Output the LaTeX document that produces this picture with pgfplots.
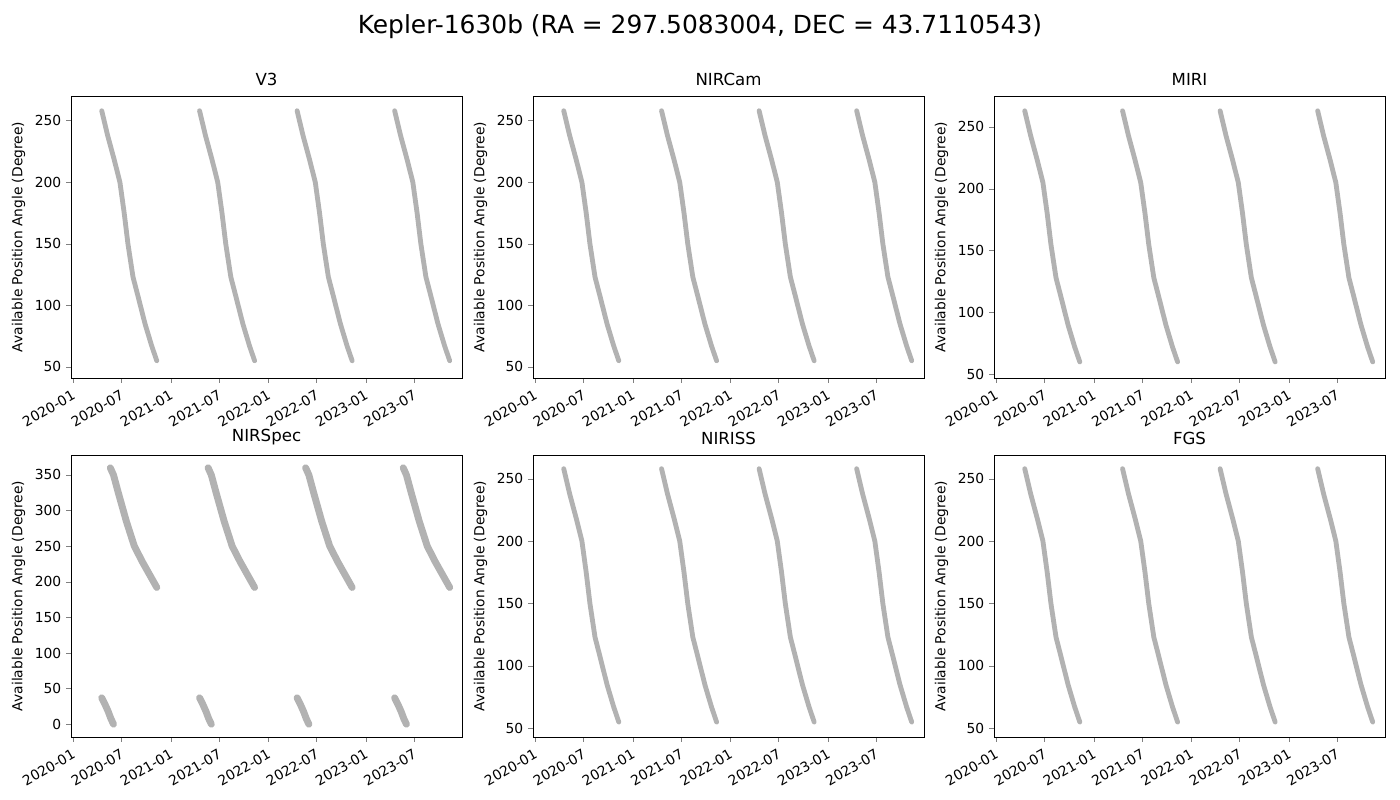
\documentclass[border=0pt]{standalone}
\usepackage{pgfplots}
\pgfplotsset{compat=1.18}
\usepackage{pgfplotstable}
\usepackage{fontspec}
\setmainfont{DejaVu Sans}
\definecolor{band}{RGB}{178,178,178}
\pgfplotstableread{
d v
108 258
130 238
155 218
176 200
192 175
206 150
225 123
243 108
270 85
295 67
314 55
nan nan
474 258
496 238
521 218
542 200
558 175
572 150
591 123
609 108
636 85
661 67
680 55
nan nan
839 258
861 238
886 218
907 200
923 175
937 150
956 123
974 108
1001 85
1026 67
1045 55
nan nan
1204 258
1226 238
1251 218
1272 200
1288 175
1302 150
1321 123
1339 108
1366 85
1391 67
1410 55
}\vthree
\pgfplotstableread{
d v
108 263
130 243
155 223
176 205
192 180
206 155
225 128
243 113
270 90
295 72
314 60
nan nan
474 263
496 243
521 223
542 205
558 180
572 155
591 128
609 113
636 90
661 72
680 60
nan nan
839 263
861 243
886 223
907 205
923 180
937 155
956 128
974 113
1001 90
1026 72
1045 60
nan nan
1204 263
1226 243
1251 223
1272 205
1288 180
1302 155
1321 128
1339 113
1366 90
1391 72
1410 60
}\miri
\pgfplotstableread{
d v
140 360
152 350
170 325
200 285
230 250
260 228
290 208
314 192
nan nan
108 37
120 28
132 18
142 8
152 0
nan nan
506 360
518 350
536 325
566 285
596 250
626 228
656 208
680 192
nan nan
474 37
486 28
498 18
508 8
518 0
nan nan
871 360
883 350
901 325
931 285
961 250
991 228
1021 208
1045 192
nan nan
839 37
851 28
863 18
873 8
883 0
nan nan
1236 360
1248 350
1266 325
1296 285
1326 250
1356 228
1386 208
1410 192
nan nan
1204 37
1216 28
1228 18
1238 8
1248 0
}\nirspec
\pgfplotsset{
  every axis/.style={scale only axis, width=3.91in, height=2.82in, anchor=north west,
    xmin=-7, xmax=1456, unbounded coords=jump,
    xtick={0,182,366,547,731,912,1096,1277},
    xticklabels={2020-01,2020-07,2021-01,2021-07,2022-01,2022-07,2023-01,2023-07},
    xticklabel style={rotate=30, anchor=north east, font=\fontsize{10}{12}\selectfont},
    yticklabel style={font=\fontsize{10}{12}\selectfont},
    ylabel={Available Position Angle (Degree)},
    ylabel style={font=\fontsize{10}{12}\selectfont},
    title style={font=\fontsize{12}{14}\selectfont, yshift=-2pt},
    /pgf/number format/assume math mode=true,
    tick align=outside, tick pos=left, major tick length=3.5pt,
  },
  bandline/.style={band, line width=3.5pt, line cap=round, line join=round},
}
\begin{document}
\begin{tikzpicture}
\path (0,0) rectangle (14in,8in);
\node[font=\fontsize{18}{22}\selectfont] at (7in,7.73in) {Kepler-1630b (RA = 297.5083004, DEC = 43.7110543)};
\begin{axis}[at={(0.71in,7.04in)}, title={V3}, ymin=41, ymax=270, ytick={50,100,150,200,250}]
\addplot[bandline] table[x=d,y=v] {\vthree};
\end{axis}
\begin{axis}[at={(5.33in,7.04in)}, title={NIRCam}, ymin=41, ymax=270, ytick={50,100,150,200,250}]
\addplot[bandline] table[x=d,y=v] {\vthree};
\end{axis}
\begin{axis}[at={(9.94in,7.04in)}, title={MIRI}, ymin=47, ymax=275, ytick={50,100,150,200,250}]
\addplot[bandline] table[x=d,y=v] {\miri};
\end{axis}
\begin{axis}[at={(0.71in,3.45in)}, title={NIRSpec}, ymin=-18, ymax=378, ytick={0,50,...,350}]
\addplot[bandline, line width=5pt] table[x=d,y=v] {\nirspec};
\end{axis}
\begin{axis}[at={(5.33in,3.45in)}, title={NIRISS}, ymin=43, ymax=269, ytick={50,100,150,200,250}]
\addplot[bandline] table[x=d,y=v] {\vthree};
\end{axis}
\begin{axis}[at={(9.94in,3.45in)}, title={FGS}, ymin=43, ymax=269, ytick={50,100,150,200,250}]
\addplot[bandline] table[x=d,y=v] {\vthree};
\end{axis}
\end{tikzpicture}
\end{document}
